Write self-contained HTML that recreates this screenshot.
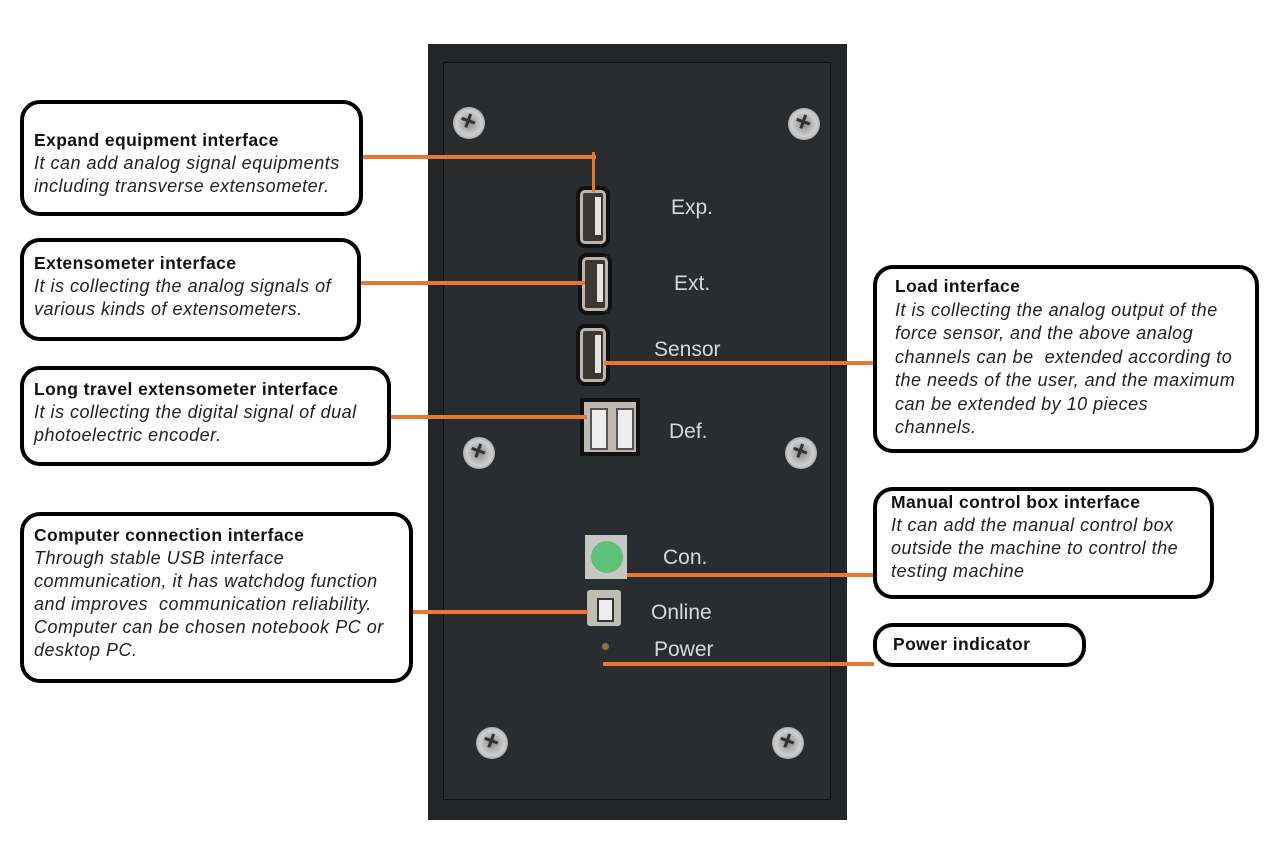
<!DOCTYPE html>
<html><head><meta charset="utf-8"><style>
body{margin:0;width:1286px;height:865px;background:#fff;position:relative;overflow:hidden;font-family:"Liberation Sans",Arial,sans-serif}
.a{position:absolute}
.box{position:absolute;border:4px solid #000;border-radius:20px;background:#fff;box-sizing:border-box;padding:4px 0 0 10px;font-size:18px;line-height:23px;color:#111;white-space:nowrap}
.box b{display:block;font-size:17.5px;letter-spacing:0.4px}
.box i{display:block;color:#222;letter-spacing:0.5px}
.ln{position:absolute;background:#e8782f;height:4px}
.lbl{position:absolute;color:#d8d8d8;font-size:21px}
.usb{position:absolute;width:20px;height:48px;border:3px solid #bdb5ad;border-radius:5px;background:#3b3733;box-shadow:0 0 0 4px #111}
.usb:after{content:"";position:absolute;right:2px;top:4px;width:6px;height:38px;background:#e8e4de}
.scr{position:absolute;width:32px;height:32px;border-radius:50%;background:radial-gradient(circle,#8a8a8a,#cfcfcf 55%,#777);}
.scr:after{content:"+";position:absolute;left:7px;top:-2px;font-size:28px;color:#333;font-weight:bold;transform:rotate(20deg)}
</style></head><body>
<div class="a" style="left:428px;top:44px;width:419px;height:776px;background:#232629"></div>
<div class="a" style="left:443px;top:62px;width:386px;height:736px;border:1px solid #111;background:#2a2d30"></div>
<div class="scr" style="left:453px;top:107px"></div>
<div class="scr" style="left:788px;top:108px"></div>
<div class="scr" style="left:463px;top:437px"></div>
<div class="scr" style="left:785px;top:437px"></div>
<div class="scr" style="left:476px;top:727px"></div>
<div class="scr" style="left:772px;top:727px"></div>
<div class="usb" style="left:580px;top:190px"></div>
<div class="usb" style="left:582px;top:257px"></div>
<div class="usb" style="left:580px;top:328px"></div>
<div class="a" style="left:584px;top:402px;width:52px;height:50px;background:#bdb8b0;box-shadow:0 0 0 4px #111"></div>
<div class="a" style="left:590px;top:408px;width:14px;height:38px;background:#eee;border:2px solid #555"></div>
<div class="a" style="left:616px;top:408px;width:14px;height:38px;background:#eee;border:2px solid #555"></div>
<div class="a" style="left:585px;top:535px;width:42px;height:44px;background:#c8c6c2"></div>
<div class="a" style="left:591px;top:541px;width:32px;height:32px;border-radius:50%;background:#5fc07a"></div>
<div class="a" style="left:587px;top:590px;width:34px;height:36px;background:#c0bcb6;border-radius:3px"></div>
<div class="a" style="left:597px;top:598px;width:13px;height:20px;background:#eee;border:2px solid #333"></div>
<div class="a" style="left:602px;top:643px;width:7px;height:7px;border-radius:50%;background:#8a7a2a"></div>
<div class="lbl" style="left:671px;top:196px">Exp.</div>
<div class="lbl" style="left:674px;top:272px">Ext.</div>
<div class="lbl" style="left:654px;top:338px">Sensor</div>
<div class="lbl" style="left:669px;top:420px">Def.</div>
<div class="lbl" style="left:663px;top:546px">Con.</div>
<div class="lbl" style="left:651px;top:601px">Online</div>
<div class="lbl" style="left:654px;top:638px">Power</div>
<div class="ln" style="left:362px;top:155px;width:234px"></div>
<div class="ln" style="left:592px;top:152px;width:3px;height:40px"></div>
<div class="ln" style="left:360px;top:281px;width:225px"></div>
<div class="ln" style="left:390px;top:415px;width:197px"></div>
<div class="ln" style="left:604px;top:361px;width:270px"></div>
<div class="ln" style="left:412px;top:610px;width:176px"></div>
<div class="ln" style="left:627px;top:573px;width:247px"></div>
<div class="ln" style="left:603px;top:662px;width:271px"></div>
<div class="box" style="left:20px;top:100px;width:343px;height:116px;padding-top:25px"><b>Expand equipment interface</b><i>It can add analog signal equipments<br>including transverse extensometer.</i></div>
<div class="box" style="left:20px;top:238px;width:341px;height:103px;padding-top:10px"><b>Extensometer interface</b><i>It is collecting the analog signals of<br>various kinds of extensometers.</i></div>
<div class="box" style="left:20px;top:366px;width:371px;height:100px;padding-top:8px"><b>Long travel extensometer interface</b><i>It is collecting the digital signal of dual<br>photoelectric encoder.</i></div>
<div class="box" style="left:20px;top:512px;width:393px;height:171px;padding-top:8px"><b>Computer connection interface</b><i>Through stable USB interface<br>communication, it has watchdog function<br>and improves &nbsp;communication reliability.<br>Computer can be chosen notebook PC or<br>desktop PC.</i></div>
<div class="box" style="left:873px;top:265px;width:386px;height:188px;padding:6px 6px 0 18px;line-height:23.5px"><b>Load interface</b><i>It is collecting the analog output of the<br>force sensor, and the above analog<br>channels can be &nbsp;extended according to<br>the needs of the user, and the maximum<br>can be extended by 10 pieces<br>channels.</i></div>
<div class="box" style="left:873px;top:487px;width:341px;height:112px;padding:0 6px 0 14px;line-height:23px"><b>Manual control box interface</b><i>It can add the manual control box<br>outside the machine to control the<br>testing machine</i></div>
<div class="box" style="left:873px;top:623px;width:213px;height:44px;padding:6px 0 0 16px"><b>Power indicator</b></div>
</body></html>
